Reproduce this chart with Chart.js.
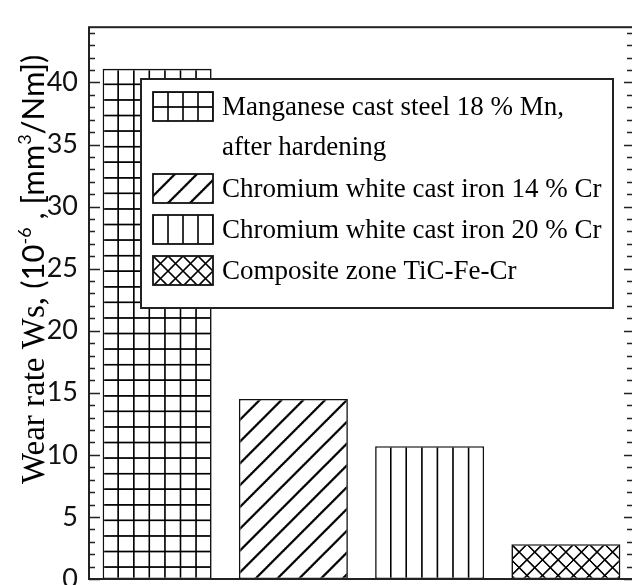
<!DOCTYPE html>
<html><head><meta charset="utf-8">
<script src="https://cdn.jsdelivr.net/npm/chart.js@4/dist/chart.umd.min.js"></script>
<style>
html,body{margin:0;padding:0;background:#fff;overflow:hidden;width:632px;height:585px}
#wrap{position:relative;width:632px;height:585px;overflow:hidden;background:#fff}
canvas{display:block}
</style></head><body>
<div id="wrap"><canvas id="c" width="640" height="620"></canvas></div>
<script>
// ---- data ----
const categories = ["Manganese cast steel 18 % Mn, after hardening", "Chromium white cast iron 14 % Cr", "Chromium white cast iron 20 % Cr", "Composite zone TiC-Fe-Cr"];
const wearRates = [41.1, 14.5, 10.7, 2.8];
const legendLines = [["Manganese cast steel 18 % Mn,", "after hardening"], ["Chromium white cast iron 14 % Cr"], ["Chromium white cast iron 20 % Cr"], ["Composite zone TiC-Fe-Cr"]];
const hatchKinds = ["grid", "diag", "vert", "cross"];
const yTicks = [0, 5, 10, 15, 20, 25, 30, 35, 40];
const yMin = 0;
const yMax = 44.45;
const yTitleParts = [
  {text: "Wear rate Ws, ", serif: true, sup: false},
  {text: "(10", serif: false, sup: false},
  {text: "-6", serif: false, sup: true},
  {text: " , [mm", serif: false, sup: false},
  {text: "3", serif: false, sup: true},
  {text: "/Nm])", serif: false, sup: false}
];

const SERIF = '"Liberation Serif", "Times New Roman", serif';
const SANS = 'Lato, "Open Sans", sans-serif';

// ---- hatch patterns ----
function makePattern(ctx, kind) {
  const n = 32;
  const c = document.createElement('canvas');
  c.width = n; c.height = n;
  const g = c.getContext('2d');
  g.fillStyle = '#fff'; g.fillRect(0, 0, n, n);
  g.strokeStyle = '#000';
  g.lineWidth = 3.3;
  g.beginPath();
  if (kind === 'grid' || kind === 'vert') {
    g.moveTo(0, -2); g.lineTo(0, n + 2);
    g.moveTo(n, -2); g.lineTo(n, n + 2);
  }
  if (kind === 'grid') {
    g.moveTo(-2, 0); g.lineTo(n + 2, 0);
    g.moveTo(-2, n); g.lineTo(n + 2, n);
  }
  if (kind === 'diag' || kind === 'cross') {
    g.moveTo(-4, n + 4); g.lineTo(n + 4, -4);
    g.moveTo(-4, 4); g.lineTo(4, -4);
    g.moveTo(n - 4, n + 4); g.lineTo(n + 4, n - 4);
  }
  if (kind === 'cross') {
    g.moveTo(-4, -4); g.lineTo(n + 4, n + 4);
    g.moveTo(n - 4, -4); g.lineTo(n + 4, 4);
    g.moveTo(-4, n - 4); g.lineTo(4, n + 4);
  }
  g.stroke();
  const p = ctx.createPattern(c, 'repeat');
  p._tile = n;
  return p;
}
function placePattern(p, ox, oy, period) {
  const s = period / p._tile;
  p.setTransform(new DOMMatrix([s, 0, 0, s, ox, oy]));
}

const canvas = document.getElementById('c');
const ctx0 = canvas.getContext('2d');
const barPatterns = hatchKinds.map(k => makePattern(ctx0, k));
const legendPatterns = hatchKinds.map(k => makePattern(ctx0, k));

const hatchAlign = {
  id: 'hatchAlign',
  beforeDatasetsDraw(chart) {
    const meta = chart.getDatasetMeta(0);
    meta.data.forEach((bar, i) => {
      const left = bar.x - bar.width / 2;
      const kind = hatchKinds[i];
      const period = kind === 'diag' ? bar.width / 5 : bar.width / 7;
      placePattern(barPatterns[i], left, bar.y, period);
    });
  }
};

const frame = {
  id: 'frame',
  afterDatasetsDraw(chart) {
    const {ctx, chartArea: a, scales: {y}} = chart;
    ctx.save();
    ctx.strokeStyle = '#222';
    ctx.lineWidth = 2;
    ctx.strokeRect(a.left, a.top, a.right - a.left, a.bottom - a.top);
    ctx.lineWidth = 1.6;
    ctx.beginPath();
    for (let v = Math.ceil(yMin); v <= yMax; v++) {
      const py = Math.round(y.getPixelForValue(v)) + 0.5;
      const major = v % 5 === 0;
      ctx.moveTo(a.left, py); ctx.lineTo(a.left + (major ? 11 : 6), py);
      ctx.moveTo(a.right, py); ctx.lineTo(a.right - (major ? 10 : 7), py);
    }
    ctx.stroke();
    ctx.restore();
  }
};

const yTitle = {
  id: 'yTitle',
  afterDraw(chart) {
    const ctx = chart.ctx;
    ctx.save();
    ctx.translate(44, 484);
    ctx.rotate(-Math.PI / 2);
    ctx.fillStyle = '#000';
    ctx.textBaseline = 'alphabetic';
    ctx.textAlign = 'left';
    let x = 0;
    yTitleParts.forEach(p => {
      ctx.font = p.serif ? ('33px ' + SERIF) : (p.sup ? ('18px ' + SANS) : ('31px ' + SANS));
      ctx.fillText(p.text, x, p.sup ? -13 : 0);
      x += ctx.measureText(p.text).width;
    });
    ctx.restore();
  }
};

const boxLegend = {
  id: 'boxLegend',
  afterDraw(chart) {
    const ctx = chart.ctx;
    ctx.save();
    const bx = 141, by = 79, bw = 472, bh = 229;
    ctx.fillStyle = '#fff';
    ctx.fillRect(bx, by, bw, bh);
    ctx.strokeStyle = '#222';
    ctx.lineWidth = 2;
    ctx.strokeRect(bx, by, bw, bh);
    const sx = 153, sw = 60, sh = 29, lh = 41;
    let top = 92;
    ctx.font = '27px ' + SERIF;
    ctx.textBaseline = 'alphabetic';
    ctx.textAlign = 'left';
    legendLines.forEach((lines, i) => {
      const kind = hatchKinds[i];
      const p = legendPatterns[i];
      placePattern(p, sx, top, kind === 'diag' ? 22 : 15);
      ctx.fillStyle = p;
      ctx.fillRect(sx, top, sw, sh);
      ctx.lineWidth = 1.8;
      ctx.strokeStyle = '#111';
      ctx.strokeRect(sx, top, sw, sh);
      ctx.fillStyle = '#000';
      lines.forEach((t, j) => ctx.fillText(t, 222, top + 23 + j * 40));
      top += lh * lines.length;
    });
    ctx.restore();
  }
};

new Chart(canvas, {
  type: 'bar',
  data: {
    labels: categories,
    datasets: [{
      data: wearRates,
      backgroundColor: barPatterns,
      borderColor: '#111',
      borderWidth: 1.6,
      borderSkipped: false,
      barPercentage: 0.8,
      categoryPercentage: 1.0
    }]
  },
  options: {
    responsive: false,
    animation: false,
    devicePixelRatio: 1,
    layout: {padding: {left: 0, top: 10, right: 6, bottom: 41}},
    plugins: {legend: {display: false}, tooltip: {enabled: false}, title: {display: false}},
    scales: {
      x: {display: false},
      y: {
        min: yMin, max: yMax,
        afterBuildTicks: s => { s.ticks = yTicks.map(v => ({value: v})); },
        afterFit: s => { s.width = 89; },
        grid: {display: false, drawTicks: false},
        border: {display: false},
        ticks: {padding: 11, font: {family: 'Lato', size: 27}, color: '#111'}
      }
    }
  },
  plugins: [hatchAlign, frame, yTitle, boxLegend]
});
</script>
</body></html>
